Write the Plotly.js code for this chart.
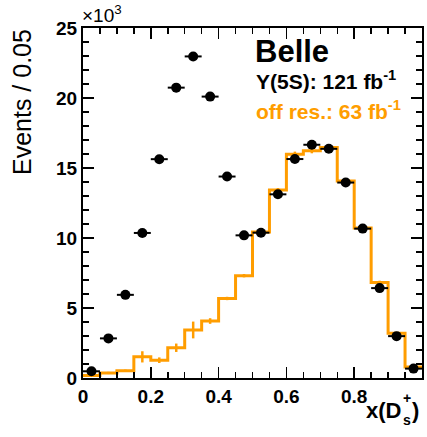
<!DOCTYPE html>
<html>
<head>
<meta charset="utf-8">
<script src="https://cdn.plot.ly/plotly-3.0.1.min.js"></script>
<style>html,body{margin:0;padding:0;background:#fff;}#chart{width:427px;height:437px;}</style>
</head>
<body>
<div id="chart"></div>
<script>
// bin centres of x(Ds+) (bin width 0.05)
const binCenters = [0.025,0.075,0.125,0.175,0.225,0.275,0.325,0.375,0.425,0.475,
                    0.525,0.575,0.625,0.675,0.725,0.775,0.825,0.875,0.925,0.975];
// Y(5S) data, events / 0.05 in units of 10^3
const y5sValues = [0.48,2.83,5.94,10.36,15.63,20.74,22.97,20.10,14.39,10.19,
                   10.38,13.12,15.64,16.66,16.37,13.96,10.67,6.42,2.99,0.67];
const y5sErrors = [0.08,0.12,0.15,0.2,0.25,0.28,0.3,0.28,0.24,0.2,
                   0.2,0.22,0.24,0.25,0.25,0.23,0.2,0.16,0.11,0.06];
// off-resonance (scaled), units of 10^3
const offResValues = [0.17,0.36,0.52,1.51,1.27,2.16,3.43,4.07,5.68,7.31,
                      10.43,13.42,15.99,16.23,16.47,14.07,10.72,6.83,3.19,0.79];
const offResErrors = [0.05,0.08,0.08,0.4,0.2,0.3,0.6,0.2,0.12,0.12,
                      0.15,0.15,0.18,0.18,0.18,0.16,0.14,0.12,0.08,0.05];
const halfWidth = 0.025;
const xTickVals = [0,0.2,0.4,0.6,0.8,1];
const xTickText = ['0','0.2','0.4','0.6','0.8','1'];
const yTickVals = [0,5,10,15,20,25];
const yTickText = ['0','5','10','15','20','25'];

const ORANGE = '#ff9d00';
const FONT = '"Liberation Sans", Arial, Helvetica, sans-serif';

// step histogram edges built from the bin centres
const histX = binCenters.map(c => c - halfWidth).concat([binCenters[binCenters.length-1] + halfWidth]);
const histY = offResValues.concat([offResValues[offResValues.length-1]]);

const traces = [
  {x: histX, y: histY, type: 'scatter', mode: 'lines', line: {shape: 'hv', color: ORANGE, width: 3},
   hoverinfo: 'skip', showlegend: false},
  {x: binCenters, y: offResValues, type: 'scatter', mode: 'markers', marker: {size: 1, color: ORANGE, opacity: 0},
   error_y: {type: 'data', array: offResErrors, color: ORANGE, thickness: 2.5, width: 0}, showlegend: false},
  {x: binCenters, y: y5sValues, type: 'scatter', mode: 'markers',
   marker: {symbol: 'circle', size: 10, color: '#000'},
   error_x: {type: 'constant', value: halfWidth, color: '#000', thickness: 2, width: 0},
   error_y: {type: 'data', array: y5sErrors, color: '#000', thickness: 2, width: 0}, showlegend: false}
];

const L = 83, R = 422, T = 28, B = 378;
const px = v => (v - L) / (R - L);
const py = v => (B - v) / (B - T);

const layout = {
  width: 427, height: 437,
  margin: {l: L, r: 427 - R, t: T, b: 437 - B},
  paper_bgcolor: '#fff', plot_bgcolor: '#fff',
  showlegend: false,
  font: {family: FONT, color: '#000'},
  xaxis: {
    range: [0, 1], tickvals: xTickVals, ticktext: xTickText,
    ticks: 'inside', ticklen: 11, tickwidth: 1.5, tickcolor: '#000',
    minor: {dtick: 0.05, tick0: 0, ticks: 'inside', ticklen: 6, tickwidth: 1.5, tickcolor: '#000'},
    showline: true, linecolor: '#000', linewidth: 2, mirror: 'ticks',
    showgrid: false, zeroline: false,
    tickfont: {family: FONT, size: 19, color: '#000', weight: 'bold'}
  },
  yaxis: {
    range: [0, 25], tickvals: yTickVals, ticktext: yTickText,
    ticks: 'inside', ticklen: 11, tickwidth: 1.5, tickcolor: '#000',
    minor: {dtick: 1, tick0: 0, ticks: 'inside', ticklen: 6, tickwidth: 1.5, tickcolor: '#000'},
    showline: true, linecolor: '#000', linewidth: 2, mirror: 'ticks',
    showgrid: false, zeroline: false,
    tickfont: {family: FONT, size: 19, color: '#000', weight: 'bold'}
  },
  annotations: [
    {xref: 'paper', yref: 'paper', x: px(253), y: py(51), xanchor: 'left', yanchor: 'middle', showarrow: false,
     text: '<b>Belle</b>', font: {family: FONT, size: 31, color: '#000'}},
    {xref: 'paper', yref: 'paper', x: px(254), y: py(80), xanchor: 'left', yanchor: 'middle', showarrow: false,
     text: '<b>Υ(5S): 121 fb<sup>-1</sup></b>', font: {family: FONT, size: 21, color: '#000'}},
    {xref: 'paper', yref: 'paper', x: px(254), y: py(110), xanchor: 'left', yanchor: 'middle', showarrow: false,
     text: '<b>off res.: 63 fb<sup>-1</sup></b>', font: {family: FONT, size: 21, color: ORANGE}},
    {xref: 'paper', yref: 'paper', x: px(80), y: py(14), xanchor: 'left', yanchor: 'middle', showarrow: false,
     text: '×10<sup>3</sup>', font: {family: FONT, size: 19, color: '#000'}},
    {xref: 'paper', yref: 'paper', x: px(22), y: py(102), xanchor: 'center', yanchor: 'middle', showarrow: false,
     textangle: -90, text: 'Events / 0.05', font: {family: FONT, size: 25, color: '#000'}},
    {xref: 'paper', yref: 'paper', x: px(403), y: py(410), xanchor: 'right', yanchor: 'middle', showarrow: false,
     text: '<b>x(D</b>', font: {family: FONT, size: 22, color: '#000'}},
    {xref: 'paper', yref: 'paper', x: px(407), y: py(398), xanchor: 'center', yanchor: 'middle', showarrow: false,
     text: '<b>+</b>', font: {family: FONT, size: 14, color: '#000'}},
    {xref: 'paper', yref: 'paper', x: px(407), y: py(420), xanchor: 'center', yanchor: 'middle', showarrow: false,
     text: '<b>s</b>', font: {family: FONT, size: 14, color: '#000'}},
    {xref: 'paper', yref: 'paper', x: px(410), y: py(410), xanchor: 'left', yanchor: 'middle', showarrow: false,
     text: '<b>)</b>', font: {family: FONT, size: 22, color: '#000'}}
  ]
};

Plotly.newPlot('chart', traces, layout, {displayModeBar: false, staticPlot: true});
</script>
</body>
</html>
